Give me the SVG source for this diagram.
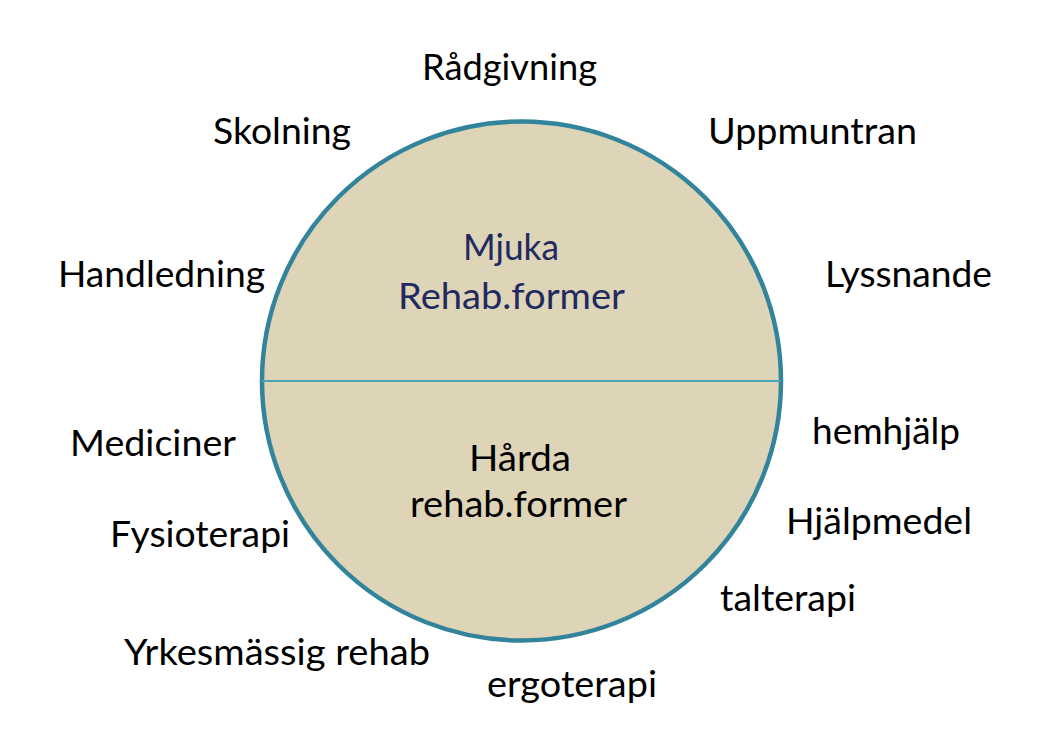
<svg xmlns="http://www.w3.org/2000/svg" width="1053" height="750" viewBox="0 0 1053 750">
<style>
text{font-family:Lato,"Open Sans","Liberation Sans",sans-serif;font-size:37px;fill:#000}
.in{text-anchor:middle}
.blue{fill:#1f2a5e}
</style>
<rect width="1053" height="750" fill="#fff"/>
<g id="circle">
<circle cx="521.5" cy="381" r="259.5" fill="#ded4b8" stroke="#31849b" stroke-width="4.5"/>
</g>
<g id="connectors">
<line x1="262" y1="381" x2="781" y2="381" stroke="#4aa3b8" stroke-width="2"/>
</g>
<g id="soft"><text class="in blue" x="511" y="260" textLength="96" lengthAdjust="spacingAndGlyphs">Mjuka</text><text class="in blue" x="511.5" y="309" textLength="227" lengthAdjust="spacingAndGlyphs">Rehab.former</text></g>
<g id="hard"><text class="in" x="520" y="471" textLength="102" lengthAdjust="spacingAndGlyphs">Hårda</text><text class="in" x="518.5" y="517" textLength="217" lengthAdjust="spacingAndGlyphs">rehab.former</text></g>
<g id="radgivning"><text x="422" y="80" textLength="175" lengthAdjust="spacingAndGlyphs">Rådgivning</text></g>
<g id="skolning"><text x="213" y="144" textLength="138" lengthAdjust="spacingAndGlyphs">Skolning</text></g>
<g id="uppmuntran"><text x="708" y="144" textLength="209" lengthAdjust="spacingAndGlyphs">Uppmuntran</text></g>
<g id="handledning"><text x="58" y="287" textLength="207" lengthAdjust="spacingAndGlyphs">Handledning</text></g>
<g id="lyssnande"><text x="825" y="287" textLength="167" lengthAdjust="spacingAndGlyphs">Lyssnande</text></g>
<g id="mediciner"><text x="70" y="456" textLength="166" lengthAdjust="spacingAndGlyphs">Mediciner</text></g>
<g id="hemhjalp"><text x="812" y="444" textLength="148" lengthAdjust="spacingAndGlyphs">hemhjälp</text></g>
<g id="fysioterapi"><text x="110" y="547" textLength="180" lengthAdjust="spacingAndGlyphs">Fysioterapi</text></g>
<g id="hjalpmedel"><text x="786" y="534" textLength="186" lengthAdjust="spacingAndGlyphs">Hjälpmedel</text></g>
<g id="talterapi"><text x="720" y="611" textLength="136" lengthAdjust="spacingAndGlyphs">talterapi</text></g>
<g id="yrkes"><text x="124" y="665" textLength="306" lengthAdjust="spacingAndGlyphs">Yrkesmässig rehab</text></g>
<g id="ergoterapi"><text x="487" y="697" textLength="170" lengthAdjust="spacingAndGlyphs">ergoterapi</text></g>
</svg>
